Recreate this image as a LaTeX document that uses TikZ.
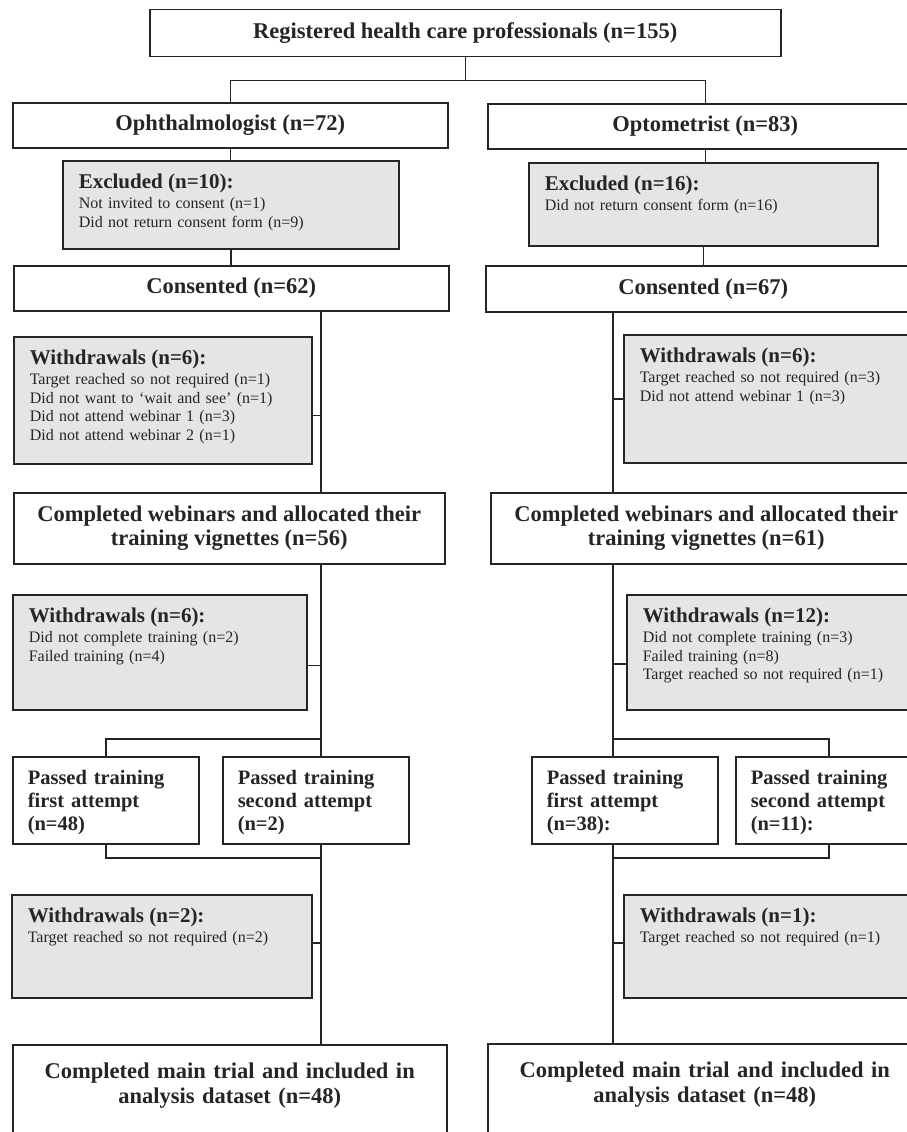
\documentclass[tikz,border=0pt]{standalone}
\usepackage{fontspec}
\setmainfont{Liberation Serif}
\usepackage{tikz}
\usetikzlibrary{positioning}
\definecolor{ink}{RGB}{38,36,36}
\definecolor{boxgrey}{RGB}{228,229,231}
\newcommand{\hdr}[1]{{\fontsize{21}{21}\selectfont\bfseries #1}\\[1.5pt]}

\begin{document}
\begin{tikzpicture}[x=1pt, y=-1pt, line width=1.5pt, color=ink,
  mainbox/.style={draw, anchor=north west, align=center, inner sep=0pt,
    font=\fontsize{22.5}{24.5}\selectfont\bfseries},
  greybox/.style={draw, fill=boxgrey, anchor=north west, align=left,
    inner xsep=16pt, inner ysep=0pt, text height=28pt,
    font=\fontsize{16}{18.5}\selectfont},
  passbox/.style={draw, anchor=north west, align=left, inner xsep=15pt,
    inner ysep=0pt, text height=28pt, text width=156pt, text depth=59pt,
    font=\fontsize{20.5}{23}\selectfont\bfseries}]
  \useasboundingbox (0,0) rectangle (907,1132);

  % Nodi principali
  \node[mainbox, minimum width=631pt, minimum height=47pt] (reg) at (149,9) {Registered health care professionals (n=155)};
  \node[mainbox, minimum width=435pt, minimum height=45pt] (oph) at (12,102) {Ophthalmologist (n=72)};
  \node[mainbox, minimum width=435pt, minimum height=45pt] (opt) at (487,103) {Optometrist (n=83)};

  % Colonna sinistra
  \node[greybox, text width=304pt, text depth=60pt] (exa) at (62,160)
    {\hdr{Excluded (n=10):}Not invited to consent (n=1)\\Did not return consent form (n=9)};
  \node[mainbox, minimum width=435pt, minimum height=45pt] (cona) at (13,265) {Consented (n=62)};
  \node[greybox, text width=266pt, text depth=99pt] (wa1) at (13,336)
    {\hdr{Withdrawals (n=6):}Target reached so not required (n=1)\\Did not want to `wait and see' (n=1)\\Did not attend webinar 1 (n=3)\\Did not attend webinar 2 (n=1)};
  \node[mainbox, minimum width=431pt, minimum height=71pt] (weba) at (13,492) {Completed webinars and allocated their\\training vignettes (n=56)};
  \node[greybox, text width=262pt, text depth=87pt] (wa2) at (12,594)
    {\hdr{Withdrawals (n=6):}Did not complete training (n=2)\\Failed training (n=4)};
  \node[passbox] (pa1) at (12,756) {Passed training\\first attempt\\(n=48)};
  \node[passbox] (pa2) at (222,756) {Passed training\\second attempt\\(n=2)};
  \node[greybox, text width=268pt, text depth=75pt] (wa3) at (11,894)
    {\hdr{Withdrawals (n=2):}Target reached so not required (n=2)};
  \node[mainbox, text width=434pt, text height=34pt, text depth=62pt] (maina) at (12,1044) {Completed main trial and included in\\analysis dataset (n=48)};

  % Colonna destra
  \node[greybox, text width=317pt, text depth=55pt] (exb) at (528,162)
    {\hdr{Excluded (n=16):}Did not return consent form (n=16)};
  \node[mainbox, minimum width=435pt, minimum height=46pt] (conb) at (485,265) {Consented (n=67)};
  \node[greybox, text width=266pt, text depth=100pt] (wb1) at (623,334)
    {\hdr{Withdrawals (n=6):}Target reached so not required (n=3)\\Did not attend webinar 1 (n=3)};
  \node[mainbox, minimum width=431pt, minimum height=71pt] (webb) at (490,492) {Completed webinars and allocated their\\training vignettes (n=61)};
  \node[greybox, text width=263pt, text depth=87pt] (wb2) at (626,594)
    {\hdr{Withdrawals (n=12):}Did not complete training (n=3)\\Failed training (n=8)\\Target reached so not required (n=1)};
  \node[passbox] (pb1) at (531,756) {Passed training\\first attempt\\(n=38):};
  \node[passbox] (pb2) at (735,756) {Passed training\\second attempt\\(n=11):};
  \node[greybox, text width=266pt, text depth=75pt] (wb3) at (623,894)
    {\hdr{Withdrawals (n=1):}Target reached so not required (n=1)};
  \node[mainbox, text width=434pt, text height=34pt, text depth=62pt] (mainb) at (487,1043) {Completed main trial and included in\\analysis dataset (n=48)};

  % Collegamenti
  \coordinate (sa) at (321,0);
  \coordinate (sb) at (613,0);
  \coordinate (ja) at (321,739);
  \coordinate (jb) at (321,858);
  \coordinate (jc) at (613,739);
  \coordinate (jd) at (613,858);

  \draw (reg.south) -- ++(0,23) -| (oph.north);
  \draw (reg.south) -- ++(0,23) -| (opt.north);
  \draw (oph.south) -- (oph.south |- exa.north);
  \draw (exa.south) -- (exa.south |- cona.north);
  \draw (opt.south) -- (opt.south |- exb.north);
  \draw (exb.south) -- (exb.south |- conb.north);

  \draw (cona.south -| sa) -- (weba.north -| sa);
  \draw ([yshift=-15pt]wa1.east) -- ([yshift=-15pt]wa1.east -| sa);
  \draw (weba.south -| sa) -- (pa2.north -| sa);
  \draw ([yshift=-13pt]wa2.east) -- ([yshift=-13pt]wa2.east -| sa);
  \draw (pa1.north) |- (ja);
  \draw (pa1.south) |- (jb);
  \draw (pa2.south -| sa) -- (maina.north -| sa);
  \draw ([yshift=3.5pt]wa3.east) -- ([yshift=3.5pt]wa3.east -| sa);

  \draw (conb.south -| sb) -- (webb.north -| sb);
  \draw (wb1.west) -- (wb1.west -| sb);
  \draw (webb.south -| sb) -- (pb1.north -| sb);
  \draw ([yshift=-11.5pt]wb2.west) -- ([yshift=-11.5pt]wb2.west -| sb);
  \draw (pb2.north) |- (jc);
  \draw (pb2.south) |- (jd);
  \draw (pb1.south -| sb) -- (mainb.north -| sb);
  \draw ([yshift=3.5pt]wb3.west) -- ([yshift=3.5pt]wb3.west -| sb);
\end{tikzpicture}
\end{document}
